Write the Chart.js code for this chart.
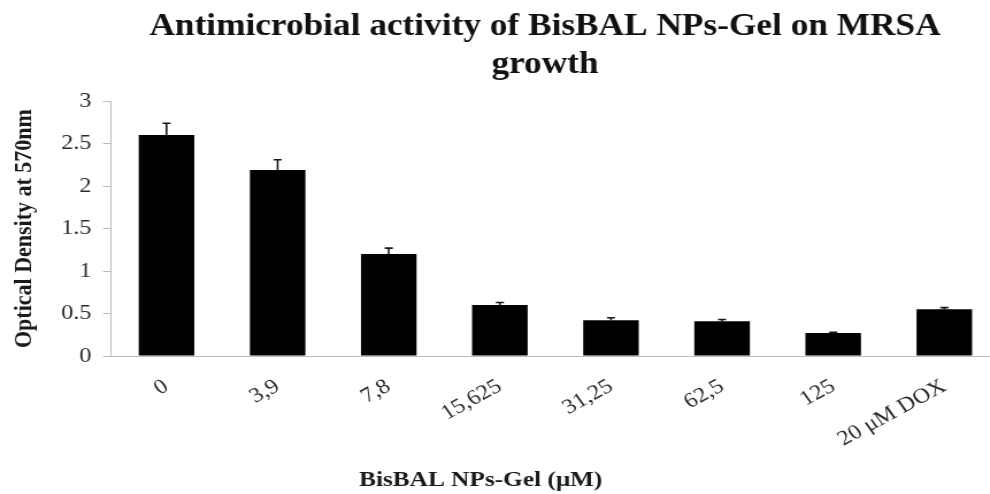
<!DOCTYPE html>
<html>
<head>
<meta charset="utf-8">
<script src="https://cdn.jsdelivr.net/npm/chart.js@4"></script>
<style>
  html, body { margin: 0; padding: 0; background: #fff; overflow: hidden; width: 990px; height: 494px; }
</style>
</head>
<body>
<!-- the drawing is widened horizontally by 1.15 on screen -->
<canvas id="chart" width="948" height="494" style="display:block;width:1090px;height:494px;"></canvas>
<script>
// BisBAL NPs-Gel concentrations (µM) plus the doxycycline control
const categories = ['0', '3,9', '7,8', '15,625', '31,25', '62,5', '125', '20 μM DOX'];
// mean optical density at 570 nm
const opticalDensity = [2.60, 2.19, 1.20, 0.60, 0.42, 0.41, 0.27, 0.55];
// upper error bar length
const errorValues = [0.14, 0.12, 0.07, 0.03, 0.03, 0.02, 0.01, 0.02];
const yTickLabels = ['0', '0.5', '1', '1.5', '2', '2.5', '3'];

const chartTitle = ['Antimicrobial activity of BisBAL NPs-Gel on MRSA', 'growth'];
const xAxisTitle = 'BisBAL NPs-Gel (μM)';
const yAxisTitle = 'Optical Density at 570nm';

const SERIF = "'Liberation Serif', 'Times New Roman', serif";
const AXIS_GREY = '#bcbcbc';

// error bars: vertical whisker from the bar top with a short cap
const errorBarPlugin = {
  id: 'errorBars',
  afterDatasetsDraw(chart) {
    const { ctx } = chart;
    const yScale = chart.scales.y;
    const meta = chart.getDatasetMeta(0);
    ctx.save();
    ctx.strokeStyle = '#1a1a1a';
    ctx.lineWidth = 1.6;
    meta.data.forEach((bar, i) => {
      const base = yScale.getPixelForValue(opticalDensity[i]);
      const tip = yScale.getPixelForValue(opticalDensity[i] + errorValues[i]);
      const half = 3.5;
      ctx.beginPath();
      ctx.moveTo(bar.x, base);
      ctx.lineTo(bar.x, tip);
      ctx.moveTo(bar.x - half, tip);
      ctx.lineTo(bar.x + half, tip);
      ctx.stroke();
    });
    ctx.restore();
  }
};

// x-axis title, placed below the rotated category labels
const xTitlePlugin = {
  id: 'xTitle',
  afterDraw(chart) {
    const { ctx, chartArea } = chart;
    ctx.save();
    ctx.font = `bold 22px ${SERIF}`;
    ctx.fillStyle = '#1a1a1a';
    ctx.textAlign = 'center';
    ctx.textBaseline = 'middle';
    const cx = chartArea.left + 0.416 * (chartArea.right - chartArea.left);
    ctx.fillText(xAxisTitle, cx, chartArea.bottom + 124.5);
    ctx.restore();
  }
};

new Chart(document.getElementById('chart'), {
  type: 'bar',
  data: {
    labels: categories,
    datasets: [{
      data: opticalDensity,
      backgroundColor: '#000',
      borderWidth: 0,
      barPercentage: 0.5,
      categoryPercentage: 1.0
    }]
  },
  options: {
    responsive: false,
    devicePixelRatio: 1,
    animation: false,
    plugins: {
      legend: { display: false },
      tooltip: { enabled: false },
      title: {
        display: true,
        text: chartTitle,
        color: '#111',
        font: { family: SERIF, size: 30.7, weight: 'bold', lineHeight: 1.24 },
        padding: { top: 8, bottom: 17 }
      }
    },
    scales: {
      x: {
        afterFit(scale) { scale.height = 138; },
        grid: { display: false },
        border: { display: true, color: AXIS_GREY, width: 1 },
        ticks: {
          autoSkip: false,
          minRotation: 32,
          maxRotation: 32,
          padding: 10,
          color: '#2a2a2a',
          font: { family: SERIF, size: 21 }
        }
      },
      y: {
        min: 0,
        max: 3,
        afterFit(scale) { scale.width = 96.5; },
        grid: { drawOnChartArea: false, drawTicks: true, tickLength: 7, color: AXIS_GREY },
        border: { display: true, color: AXIS_GREY, width: 1 },
        ticks: {
          stepSize: 0.5,
          padding: 10,
          color: '#2a2a2a',
          font: { family: SERIF, size: 21 },
          callback: (value, index) => yTickLabels[index]
        },
        title: {
          display: true,
          text: yAxisTitle,
          color: '#1a1a1a',
          font: { family: SERIF, size: 22, weight: 'bold', lineHeight: 1.2 },
          padding: { top: 8, bottom: 0 }
        }
      },
      // blank right-hand margin beyond the last bar
      margin: {
        type: 'linear',
        position: 'right',
        afterFit(scale) { scale.width = 78.4; },
        grid: { display: false },
        border: { display: false },
        ticks: { display: false }
      }
    }
  },
  plugins: [errorBarPlugin, xTitlePlugin]
});
</script>
</body>
</html>
